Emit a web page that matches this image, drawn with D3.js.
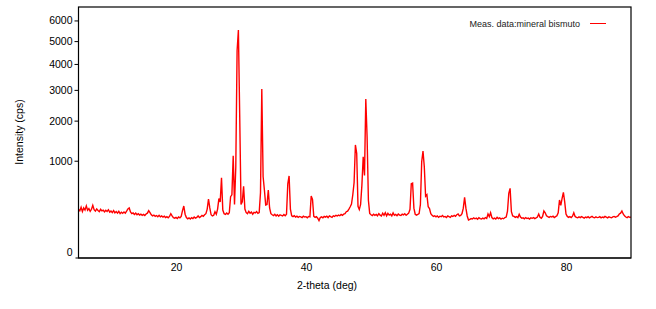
<!DOCTYPE html>
<html><head><meta charset="utf-8">
<script src="https://cdn.jsdelivr.net/npm/d3@7"></script>
<style>
html,body{margin:0;padding:0;background:#fff;}
svg{display:block;font-family:"Liberation Sans",Arial,sans-serif;}
</style></head>
<body><svg id="c" width="656" height="309"></svg>
<script>
// 2-theta grid of the measurement
const twoThetaStart = 5;
const twoThetaStep = 0.2;
// Measured intensity (cps), one value per grid step from 5.0 to 90.0 deg
const intensity = [
250,232,270,225,262,240,285,238,255,228,
248,290,245,230,252,236,225,248,232,240,
222,238,226,244,220,230,215,235,212,225,
210,228,205,218,208,222,210,230,252,262,
222,205,212,198,210,195,205,192,200,190,
198,188,202,210,235,215,195,185,192,180,
188,178,190,176,185,174,182,170,178,168,
180,205,185,170,165,172,162,175,168,180,
235,283,200,170,160,168,158,170,162,175,
165,172,185,170,178,190,182,195,205,250,
365,262,195,184,190,224,200,250,370,330,
680,240,205,198,212,200,215,395,420,1107,
300,880,4567,5527,2169,300,330,540,250,215,
205,228,210,220,200,218,212,225,208,215,
449,3032,700,487,294,300,487,262,205,195,
188,200,185,196,182,194,190,185,198,186,
200,580,710,250,185,178,186,175,182,172,
180,176,170,182,175,178,168,180,176,404,
360,180,172,178,165,145,170,176,168,180,
174,182,170,185,178,172,186,180,190,184,
192,186,198,190,200,205,224,230,250,275,
305,420,600,1352,1160,280,245,300,560,1085,
720,2680,1550,350,208,195,188,200,190,198,
186,205,192,184,210,190,215,185,208,192,
200,185,212,190,198,186,202,192,188,200,
194,205,190,200,210,248,580,590,260,200,
192,198,205,300,980,1211,880,400,420,275,
255,205,190,180,186,176,184,172,182,178,
188,176,180,170,184,178,172,186,180,190,
182,195,202,185,190,205,260,387,260,184,
150,155,162,158,168,160,165,156,170,162,
158,166,160,170,163,202,178,214,170,160,
166,158,172,162,168,158,165,160,170,175,
230,440,511,224,184,180,172,178,170,199,
175,164,168,160,170,162,166,158,168,164,
170,162,168,175,202,172,165,180,231,214,
185,178,172,180,175,182,170,178,185,214,
353,290,374,454,330,202,180,172,178,170,
182,214,180,172,168,176,170,178,172,166,
175,170,178,168,174,180,172,168,176,170,
172,178,168,175,170,180,174,168,176,172,
168,176,180,174,178,185,202,210,231,202,
185,175,170,178,172,174
];
const xTicks = [20, 40, 60, 80];
const yTicks = [0, 1000, 2000, 3000, 4000, 5000, 6000];
const xDomain = [5, 90];
const yDomain = [0, 6700];
const seriesName = "Meas. data:mineral bismuto";
const xTitle = "2-theta (deg)";
const yTitle = "Intensity (cps)";

const data = intensity.map((v, i) => ({x: twoThetaStart + i * twoThetaStep, y: v}));

const L = 78.5, R = 631, T = 7, B = 257.5;
const svg = d3.select("#c");
const x = d3.scaleLinear().domain(xDomain).range([L, R]);
const y = d3.scaleSqrt().domain(yDomain).range([B, T]);

// clip
svg.append("clipPath").attr("id","clip").append("rect")
  .attr("x", L).attr("y", T).attr("width", R - L).attr("height", B - T);

// line
svg.append("path").datum(data)
  .attr("clip-path","url(#clip)")
  .attr("fill","none").attr("stroke","#ff0000").attr("stroke-width",1.4)
  .attr("stroke-linejoin","miter")
  .attr("d", d3.line().x(d => x(d.x)).y(d => y(d.y)));

// frame
svg.append("rect").attr("x", L).attr("y", T).attr("width", R - L).attr("height", B - T + 0.5)
  .attr("fill","none").attr("stroke","#000").attr("stroke-width",1.2);

// y axis
const gy = svg.append("g").attr("transform", `translate(${L},0)`)
  .call(d3.axisLeft(y).tickValues(yTicks).tickSize(4).tickPadding(2).tickFormat(d3.format("d")));
gy.select(".domain").remove();
gy.selectAll("text").attr("font-size", 10.5).attr("fill","#000")
  .attr("font-family","'Liberation Sans',Arial,sans-serif");
gy.selectAll("line").attr("stroke","#000");
gy.selectAll(".tick").filter(d => d === 0).each(function(){
  d3.select(this).select("line").remove();
  d3.select(this).select("text").attr("dy","0.32em").attr("y", -5);
});

// x axis
const gx = svg.append("g").attr("transform", `translate(0,${B + 0.5})`)
  .call(d3.axisBottom(x).tickValues(xTicks).tickSize(0).tickPadding(6).tickFormat(d3.format("d")));
gx.select(".domain").attr("d", `M${L - 3},0H${R}`).attr("stroke","#000").attr("stroke-width",1.2);
gx.selectAll("text").attr("font-size", 10.5).attr("fill","#000")
  .attr("font-family","'Liberation Sans',Arial,sans-serif");

// titles
svg.append("text").attr("x", 327).attr("y", 289).attr("text-anchor","middle")
  .attr("font-size", 10.5).text(xTitle);
svg.append("text").attr("transform","translate(23,132) rotate(-90)").attr("text-anchor","middle")
  .attr("font-size", 10.5).text(yTitle);

// legend
svg.append("text").attr("x", 580).attr("y", 27).attr("text-anchor","end")
  .attr("font-size", 9).attr("fill","#222").text(seriesName);
svg.append("line").attr("x1", 590).attr("x2", 606).attr("y1", 23.5).attr("y2", 23.5)
  .attr("stroke","#ff0000").attr("stroke-width",1);
</script></body></html>
